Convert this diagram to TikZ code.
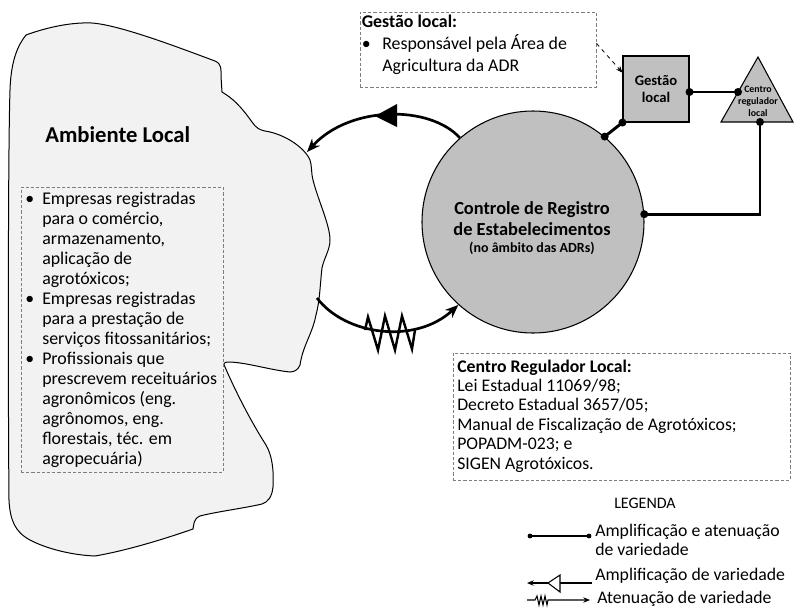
\documentclass[tikz,border=0pt]{standalone}
\usepackage{fontspec}
\setmainfont{Carlito}
\usetikzlibrary{arrows.meta,calc}
\definecolor{panelgray}{RGB}{192,192,192}
\definecolor{envgray}{RGB}{242,242,242}
\definecolor{dashgray}{RGB}{125,125,125}
\newcommand\txtblock[2]{\begin{tabular}[t]{@{}#1@{}}#2\end{tabular}}
\newcommand\fsz[2]{\fontsize{#1}{#2}\selectfont}

\begin{document}
\begin{tikzpicture}[x=0.75pt,y=-0.75pt,
  txt/.style={inner sep=0pt, anchor=base west},
  ctxt/.style={inner sep=0pt, anchor=base},
  notebox/.style={draw=dashgray, dash pattern=on 2.4pt off 1.5pt, line width=0.7pt, inner sep=0pt},
  link/.style={line width=2.2pt},
  flow/.style={line width=2pt, -{Stealth[length=10pt,width=8pt]}},
  thinline/.style={line width=0.8pt},
  smallhead/.style={-{Stealth[length=5pt,width=4pt]}},
]
\useasboundingbox (0,0) rectangle (794,612);

% ---- local environment (irregular region) ----
\filldraw[fill=envgray, line width=0.75pt]
  (26,35) .. controls (45,28) and (70,22) .. (92,23)
  .. controls (120,25) and (180,48) .. (215,61)
  .. controls (222,64) and (221,70) .. (221,76)
  -- (222,92)
  .. controls (232,98) and (240,105) .. (252,122)
  .. controls (256,128) and (260,130) .. (265,131)
  .. controls (285,134) and (305,148) .. (310,160)
  .. controls (312,166) and (311,172) .. (313,180)
  .. controls (318,200) and (330,225) .. (330,240)
  .. controls (330,250) and (324,258) .. (322,268)
  .. controls (320,285) and (320,300) .. (316,315)
  .. controls (312,335) and (303,345) .. (300,365)
  .. controls (298,370) and (294,372) .. (290,372)
  .. controls (270,370) and (245,362) .. (228,362)
  .. controls (224,362) and (223,364) .. (225,367)
  .. controls (235,390) and (250,420) .. (266,445)
  .. controls (272,455) and (274,470) .. (273,487)
  .. controls (272,497) and (268,502) .. (262,504)
  .. controls (245,508) and (215,512) .. (200,516)
  .. controls (193,519) and (194,525) .. (193,529)
  .. controls (170,537) and (130,550) .. (95,556)
  .. controls (70,555) and (45,548) .. (30,540)
  .. controls (15,532) and (10,520) .. (9,500)
  .. controls (8,400) and (8,150) .. (10,90)
  .. controls (11,60) and (18,45) .. (26,35) -- cycle;
\coordinate (envin) at (307,152);
\coordinate (envout) at (317,298);

\node[txt] (envtitle) at (45,142) {\fsz{17}{20}\bfseries Ambiente Local};

\node[notebox, minimum width=151.5pt, minimum height=213.75pt] (envbox) at (122,329.5) {};
\node[txt] (envlist) at (25,204) {\fsz{13.4}{15}\txtblock{l@{}l}{%
  \makebox[12.75pt][l]{\textbullet} & Empresas registradas\\
  & para o comércio,\\
  & armazenamento,\\
  & aplicação de\\
  & agrotóxicos;\\
  \textbullet & Empresas registradas\\
  & para a prestação de\\
  & serviços fitossanitários;\\
  \textbullet & Profissionais que\\
  & prescrevem receituários\\
  & agronômicos (eng.\\
  & agrônomos, eng.\\
  & florestais, téc. em\\
  & agropecuária)}};

% ---- central system ----
\node[circle, draw, fill=panelgray, line width=0.8pt, minimum size=166.5pt, inner sep=0pt] (ctrl) at (533,222) {};
\node[ctxt] (ctrltext) at (532,214) {\fsz{13.8}{15.75}\bfseries\txtblock{c}{Controle de Registro\\de Estabelecimentos\\[-3pt]\fsz{10.5}{12}(no âmbito das ADRs)}};

% ---- local management ----
\node[draw, fill=panelgray, line width=0.8pt, minimum size=49.5pt, inner sep=0pt, align=center,
      font=\fsz{11}{13.1}\bfseries] (gestao) at (656,89) {Gestão\\local};

% ---- local regulating centre ----
\coordinate (tapex) at (758,57);
\coordinate (tleft) at (721,122);
\coordinate (tright) at (793,122);
\filldraw[fill=panelgray, line width=0.8pt] (tapex) -- (tleft) -- (tright) -- cycle;
\node[ctxt] (tritext) at (758,92) {\fsz{7.4}{9}\bfseries\txtblock{c}{Centro\\regulador\\local}};
\coordinate (tl) at (738,92);
\coordinate (tb) at (760,122);

% ---- links (amplification and attenuation) ----
\draw[link] (gestao.east |- tl) -- (tl);
\draw[link] (gestao.south west) -- (ctrl.50);
\draw[link] (tb) |- (ctrl.4);
\foreach \p in {gestao.east |- tl, tl, gestao.south west, ctrl.50, tb, ctrl.4}
  \fill (\p) circle[radius=3pt];

% ---- amplification toward the environment ----
\draw[flow] (ctrl.131) .. controls (430,105) and (350,105) .. (envin);
\fill (375,116) -- (397,104) -- (397,127) -- cycle;

% ---- attenuation from the environment ----
\draw[flow] (envout) .. controls (345,335) and (415,345) .. (ctrl.228);
\draw[line width=1.8pt, line join=miter] (365,330) -- (368,317) -- (378,350) -- (385,316)
  -- (395,350) -- (402,316) -- (412,349) -- (415,330);

% ---- notes ----
\node[notebox, minimum width=177pt, minimum height=56.25pt] (gnote) at (478,49.5) {};
\node[txt] (gnotetext) at (361.5,27) {\fsz{13.4}{16.7}\txtblock{l@{}l}{%
  \multicolumn{2}{@{}l@{}}{\bfseries Gestão local:}\\
  \makebox[15.4pt][l]{\textbullet} & Responsável pela Área de\\
  & Agricultura da ADR}};
\draw[dashed, line width=0.6pt, smallhead] ($(gnote.north east)!0.42!(gnote.south east)$) -- (gestao.154);

\node[notebox, minimum width=252.75pt, minimum height=95.25pt] (crbox) at (621.5,416.5) {};
\node[txt] (crtext) at (457,372) {\fsz{13.3}{14.55}\txtblock{l}{%
  \bfseries Centro Regulador Local:\\
  Lei Estadual 11069/98;\\
  Decreto Estadual 3657/05;\\
  Manual de Fiscalização de Agrotóxicos;\\
  POPADM-023; e\\
  SIGEN Agrotóxicos.}};

% ---- legend ----
\node[ctxt] (legtitle) at (645,508) {\fsz{12}{14}LEGENDA};

\coordinate (l1a) at (530,536);
\coordinate (l1b) at (589,536);
\draw[thinline] (l1a) -- (l1b);
\fill (l1a) circle[radius=1.8pt];
\fill (l1b) circle[radius=1.8pt];
\node[txt] (leg1) at (595,536.5) {\fsz{13.3}{13.9}\txtblock{l}{Amplificação e atenuação\\de variedade}};

\coordinate (l2a) at (592,583);
\coordinate (l2b) at (527,583);
\draw[thinline, smallhead] (l2a) -- (l2b);
\filldraw[fill=white, thinline] (548,583) -- (560,575) -- (560,592) -- cycle;
\node[txt] (leg2) at (595,580) {\fsz{13.3}{15}Amplificação de variedade};

\coordinate (l3a) at (527,600);
\coordinate (l3b) at (590,600);
\draw[thinline, smallhead] (l3a) -- (535,600) -- (537,596) -- (539,605) -- (541,596) -- (543,605)
  -- (545,596) -- (547,605) -- (548,600) -- (l3b);
\node[txt] (leg3) at (597,603) {\fsz{13.3}{15}Atenuação de variedade};
\end{tikzpicture}
\end{document}
